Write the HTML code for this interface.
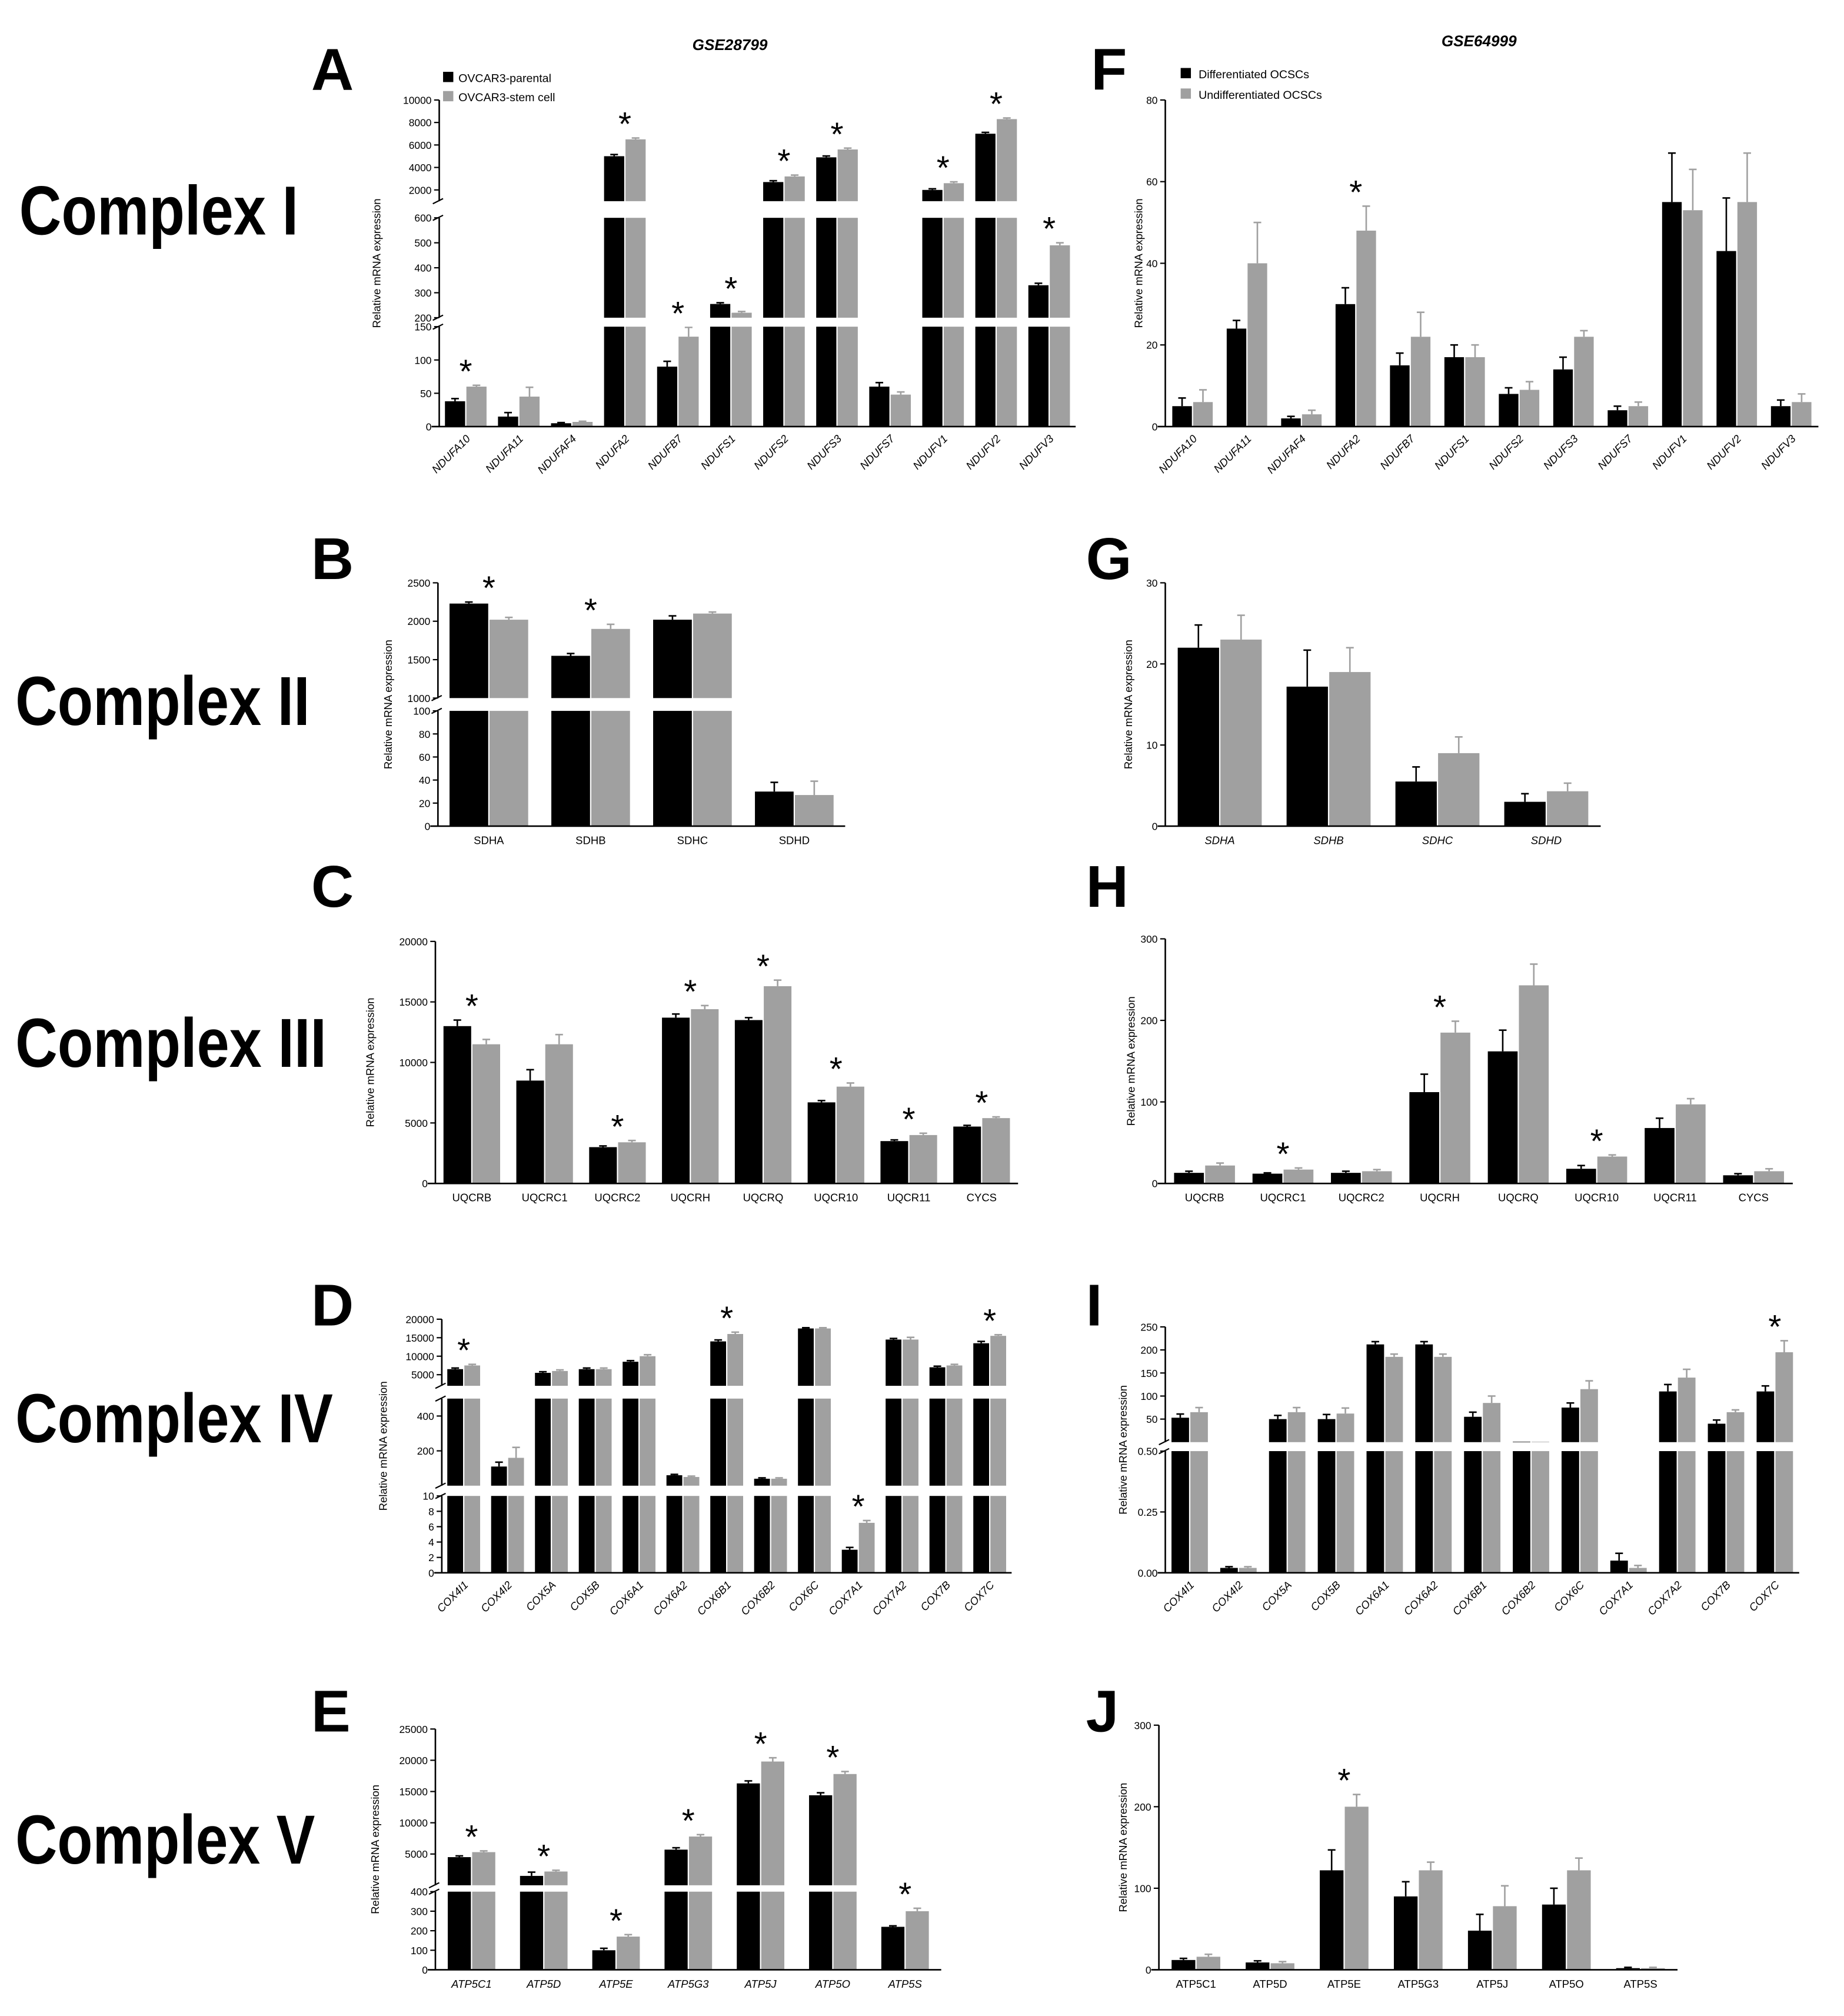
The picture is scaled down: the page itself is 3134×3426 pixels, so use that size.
<!DOCTYPE html>
<html><head><meta charset="utf-8"><style>
html,body{margin:0;padding:0;background:#fff}
svg{display:block}
text{font-family:"Liberation Sans",sans-serif}
</style></head><body>
<svg id="fig" width="3134" height="3426" viewBox="0 0 1440 1574" xmlns="http://www.w3.org/2000/svg">
<g>
<text x="570" y="39" font-size="12" font-weight="bold" font-style="italic" text-anchor="middle">GSE28799</text>
<text x="1155" y="36" font-size="12" font-weight="bold" font-style="italic" text-anchor="middle">GSE64999</text>
</g>
<g font-size="54" font-weight="bold" font-family="'Liberation Sans Narrow','Liberation Sans',sans-serif">
<text x="15" y="183" textLength="218" lengthAdjust="spacingAndGlyphs">Complex I</text>
<text x="12" y="566" textLength="230" lengthAdjust="spacingAndGlyphs">Complex II</text>
<text x="12" y="833" textLength="243" lengthAdjust="spacingAndGlyphs">Complex III</text>
<text x="12" y="1126" textLength="248" lengthAdjust="spacingAndGlyphs">Complex IV</text>
<text x="12" y="1455" textLength="234" lengthAdjust="spacingAndGlyphs">Complex V</text>
</g>
<g font-size="9">
<rect x="346" y="56" width="8" height="8" fill="#000"/><text x="358" y="64">OVCAR3-parental</text>
<rect x="346" y="71" width="8" height="8" fill="#a0a0a0"/><text x="358" y="79">OVCAR3-stem cell</text>
</g>
<g font-size="9">
<rect x="922" y="53" width="8" height="8" fill="#000"/><text x="936" y="61">Differentiated OCSCs</text>
<rect x="922" y="69" width="8" height="8" fill="#a0a0a0"/><text x="936" y="77">Undifferentiated OCSCs</text>
</g>
</svg>
<script>
const aCats=["NDUFA10","NDUFA11","NDUFAF4","NDUFA2","NDUFB7","NDUFS1","NDUFS2","NDUFS3","NDUFS7","NDUFV1","NDUFV2","NDUFV3"];
const aBlack=[38,15,5,5000,90,255,2700,4900,60,2000,7000,330];
const aGray=[60,45,7,6500,135,220,3200,5600,48,2600,8300,490];
const aBlackErr=[4,6,1,150,8,5,120,120,6,100,120,8];
const aGrayErr=[2,14,1,120,14,5,120,120,4,120,100,10];
const aStars=[1,0,0,1,1,1,1,1,0,1,1,1];
const fCats=aCats;
const fBlack=[5,24,2,30,15,17,8,14,4,55,43,5];
const fGray=[6,40,3,48,22,17,9,22,5,53,55,6];
const fBlackErr=[2,2,0.5,4,3,3,1.5,3,1,12,13,1.5];
const fGrayErr=[3,10,1,6,6,3,2,1.5,1,10,12,2];
const fStars=[0,0,0,1,0,0,0,0,0,0,0,0];
const bCats=["SDHA","SDHB","SDHC","SDHD"];
const bBlack=[2230,1550,2020,30];
const bGray=[2020,1900,2100,27];
const bBlackErr=[20,30,50,8];
const bGrayErr=[30,60,20,12];
const bStars=[1,1,0,0];
const gCats=bCats;
const gBlack=[22,17.2,5.5,3];
const gGray=[23,19,9,4.3];
const gBlackErr=[2.8,4.5,1.8,1];
const gGrayErr=[3,3,2,1];
const gStars=[0,0,0,0];
const cCats=["UQCRB","UQCRC1","UQCRC2","UQCRH","UQCRQ","UQCR10","UQCR11","CYCS"];
const cBlack=[13000,8500,3000,13700,13500,6700,3500,4700];
const cGray=[11500,11500,3400,14400,16300,8000,4000,5400];
const cBlackErr=[500,900,100,300,200,150,100,100];
const cGrayErr=[400,800,150,300,500,300,150,100];
const cStars=[1,0,1,1,1,1,1,1];
const hCats=["UQCRB","UQCRC1","UQCRC2","UQCRH","UQCRQ","UQCR10","UQCR11","CYCS"];
const hBlack=[13,12,13,112,162,18,68,10];
const hGray=[22,17,15,185,243,33,97,15];
const hBlackErr=[2,1,2,22,26,4,12,2];
const hGrayErr=[3,2,2,14,26,2,7,3];
const hStars=[0,1,0,1,0,1,0,0];
const dCats=["COX4I1","COX4I2","COX5A","COX5B","COX6A1","COX6A2","COX6B1","COX6B2","COX6C","COX7A1","COX7A2","COX7B","COX7C"];
const dBlack=[6500,110,5500,6500,8500,60,14000,40,17500,3,14500,7000,13500];
const dGray=[7500,160,6000,6500,10000,50,16000,40,17500,6.5,14500,7500,15500];
const dBlackErr=[300,25,300,300,300,5,400,5,200,0.3,300,300,500];
const dGrayErr=[300,60,300,300,400,5,500,5,200,0.3,600,300,300];
const dStars=[1,0,0,0,0,0,1,0,0,1,0,0,1];
const iCats=dCats;
const iBlack=[53,0.02,50,50,212,212,55,1,75,0.05,110,40,110];
const iGray=[65,0.02,65,62,185,185,85,1,115,0.02,140,65,195];
const iBlackErr=[8,0.005,8,10,6,6,10,0,10,0.03,15,8,12];
const iGrayErr=[10,0.005,10,12,6,6,15,0,18,0.01,18,5,25];
const iStars=[0,0,0,0,0,0,0,0,0,0,0,0,1];
const eCats=["ATP5C1","ATP5D","ATP5E","ATP5G3","ATP5J","ATP5O","ATP5S"];
const eBlack=[4500,1500,100,5700,16300,14400,220];
const eGray=[5300,2200,170,7800,19800,17800,300];
const eBlackErr=[200,600,10,300,400,400,5];
const eGrayErr=[200,200,10,300,600,400,15];
const eStars=[1,1,1,1,1,1,1];
const jCats=eCats;
const jBlack=[12,9,122,90,48,80,2];
const jGray=[16,8,200,122,78,122,2];
const jBlackErr=[2,2,25,18,20,20,1];
const jGrayErr=[3,2,15,10,25,15,1];
const jStars=[0,0,1,0,0,0,0];

const svg=document.getElementById('fig');
const NS="http://www.w3.org/2000/svg";
function mk(tag,attrs,parent){const e=document.createElementNS(NS,tag);for(const k in attrs)e.setAttribute(k,attrs[k]);parent.appendChild(e);return e;}

function panel(id,cfg,cats,blk,gry,be,ge,stars){
  const g=mk('g',{},svg);
  
  
  const segs=cfg.segs;
  function y(v){
    for(let i=0;i<segs.length;i++){const s=segs[i];
      if(v<=s.d1){ if(v<s.d0) return s.p0; return s.p0+(v-s.d0)/(s.d1-s.d0)*(s.p1-s.p0);} }
    return segs[segs.length-1].p1;
  }
  const n=cats.length, gw=(cfg.x1-cfg.x0)/n, bw=gw*cfg.bf;
  const yb=segs[0].p0;
  const starPos=[];
  for(let i=0;i<n;i++){
    const cx=cfg.x0+gw*(i+0.5);
    const vals=[blk[i],gry[i]], errs=[be[i],ge[i]];
    let top=yb;
    for(let k=0;k<2;k++){
      const xL=k===0?cx-bw-0.5:cx+0.5;
      const yv=y(vals[k]);
      const r=mk('rect',{x:xL,y:yv,width:bw,height:Math.max(0,yb-yv),fill:k===0?'#000':'#a0a0a0'},g);
      
      
      const ye=y(vals[k]+errs[k]);
      if(errs[k]>0){
        mk('line',{x1:xL+bw/2,x2:xL+bw/2,y1:yv,y2:ye,stroke:k===0?'#000':'#a0a0a0','stroke-width':1.2},g);
        mk('line',{x1:xL+bw/2-3,x2:xL+bw/2+3,y1:ye,y2:ye,stroke:k===0?'#000':'#a0a0a0','stroke-width':1.2},g);
      }
      top=Math.min(top,ye);
    }
    if(stars[i]) starPos.push([cx,top]);
    const lbl=mk('text',{'font-size':8.5,'font-style':cfg.italic?'italic':'normal'},g);
    lbl.textContent=cats[i];
    
    
    if(cfg.rot){lbl.setAttribute('text-anchor','end');lbl.setAttribute('transform',`translate(${cx+4},${yb+10}) rotate(-45)`);}
    else{lbl.setAttribute('text-anchor','middle');lbl.setAttribute('x',cx);lbl.setAttribute('y',yb+14);}
  }
  for(let i=0;i<segs.length-1;i++){
    const a=segs[i].p1,b=segs[i+1].p0;
    mk('rect',{x:cfg.x0-6,y:b,width:cfg.x1-cfg.x0+6,height:a-b,fill:'#fff'},g);
    mk('line',{x1:cfg.x0-5,x2:cfg.x0+3,y1:a+2,y2:a-2,stroke:'#000'},g);
    mk('line',{x1:cfg.x0-5,x2:cfg.x0+3,y1:b+2,y2:b-2,stroke:'#000'},g);
  }
  starPos.forEach(p=>{
    const st=mk('text',{x:p[0],y:p[1]-2,'font-size':26,'text-anchor':'middle'},g);
    st.textContent='*';
    
    
  });
  const ax=mk('g',{},g);
  
  
  mk('line',{x1:cfg.x0-6,x2:cfg.x1,y1:yb,y2:yb,stroke:'#000','stroke-width':1.2},g);
  segs.forEach(s=>{
    mk('line',{x1:cfg.x0,x2:cfg.x0,y1:s.p0,y2:s.p1,stroke:'#000','stroke-width':1.2},ax);
    s.ticks.forEach(t=>{
      const ty=y(t);
      mk('line',{x1:cfg.x0-4,x2:cfg.x0,y1:ty,y2:ty,stroke:'#000'},ax);
      const tl=mk('text',{x:cfg.x0-6,y:ty+3,'font-size':8,'text-anchor':'end'},ax);
      tl.textContent=cfg.fmt?cfg.fmt(t):String(t);
    });
  });
  const top=segs[segs.length-1].p1;
  const yt=mk('text',{'font-size':8.5,'text-anchor':'middle',transform:`translate(${cfg.ytx},${(yb+top)/2}) rotate(-90)`},g);
  yt.textContent='Relative mRNA expression';
  
  
  const L=mk('text',{x:cfg.lx,y:cfg.ly,'font-size':46,'font-weight':'bold','font-family':"'Liberation Sans Narrow','Liberation Sans',sans-serif"},g);
  L.textContent=id.toUpperCase();
  
  
}

panel('a',{x0:343,x1:840,bf:0.38,rot:true,italic:true,ytx:297,lx:243,ly:70,
  segs:[{d0:0,d1:150,p0:333,p1:255,ticks:[0,50,100,150]},{d0:200,d1:600,p0:248,p1:170,ticks:[200,300,400,500,600]},{d0:1000,d1:10000,p0:157,p1:78,ticks:[2000,4000,6000,8000,10000]}]},
  aCats,aBlack,aGray,aBlackErr,aGrayErr,aStars);
panel('f',{x0:910,x1:1420,bf:0.36,rot:true,italic:true,ytx:892,lx:852,ly:70,
  segs:[{d0:0,d1:80,p0:333,p1:78,ticks:[0,20,40,60,80]}]},
  fCats,fBlack,fGray,fBlackErr,fGrayErr,fStars);
panel('b',{x0:342,x1:660,bf:0.38,rot:false,italic:false,ytx:306,lx:243,ly:452,
  segs:[{d0:0,d1:100,p0:645,p1:555,ticks:[0,20,40,60,80,100]},{d0:1000,d1:2500,p0:545,p1:455,ticks:[1000,1500,2000,2500]}]},
  bCats,bBlack,bGray,bBlackErr,bGrayErr,bStars);
panel('g',{x0:910,x1:1250,bf:0.38,rot:false,italic:true,ytx:884,lx:848,ly:452,
  segs:[{d0:0,d1:30,p0:645,p1:455,ticks:[0,10,20,30]}]},
  gCats,gBlack,gGray,gBlackErr,gGrayErr,gStars);
panel('c',{x0:340,x1:795,bf:0.38,rot:false,italic:false,ytx:292,lx:243,ly:708,
  segs:[{d0:0,d1:20000,p0:924,p1:735,ticks:[0,5000,10000,15000,20000]}]},
  cCats,cBlack,cGray,cBlackErr,cGrayErr,cStars);
panel('h',{x0:910,x1:1400,bf:0.38,rot:false,italic:false,ytx:886,lx:848,ly:708,
  segs:[{d0:0,d1:300,p0:924,p1:733,ticks:[0,100,200,300]}]},
  hCats,hBlack,hGray,hBlackErr,hGrayErr,hStars);
panel('d',{x0:345,x1:790,bf:0.36,rot:true,italic:true,ytx:302,lx:243,ly:1035,
  segs:[{d0:0,d1:10,p0:1228,p1:1168,ticks:[0,2,4,6,8,10]},{d0:0,d1:500,p0:1160,p1:1092,ticks:[200,400]},{d0:2000,d1:20000,p0:1082,p1:1030,ticks:[5000,10000,15000,20000]}]},
  dCats,dBlack,dGray,dBlackErr,dGrayErr,dStars);
panel('i',{x0:910,x1:1405,bf:0.36,rot:true,italic:true,ytx:880,lx:848,ly:1035,
  fmt:t=>t<1?t.toFixed(2):String(t),
  segs:[{d0:0,d1:0.5,p0:1228,p1:1133,ticks:[0,0.25,0.5]},{d0:0,d1:250,p0:1126,p1:1036,ticks:[50,100,150,200,250]}]},
  iCats,iBlack,iGray,iBlackErr,iGrayErr,iStars);
panel('e',{x0:340,x1:735,bf:0.32,rot:false,italic:true,ytx:296,lx:243,ly:1352,
  segs:[{d0:0,d1:400,p0:1538,p1:1477,ticks:[0,100,200,300,400]},{d0:0,d1:25000,p0:1472,p1:1350,ticks:[5000,10000,15000,20000,25000]}]},
  eCats,eBlack,eGray,eBlackErr,eGrayErr,eStars);
panel('j',{x0:905,x1:1310,bf:0.32,rot:false,italic:false,ytx:880,lx:848,ly:1352,
  segs:[{d0:0,d1:300,p0:1538,p1:1347,ticks:[0,100,200,300]}]},
  jCats,jBlack,jGray,jBlackErr,jGrayErr,jStars);
</script>
</body></html>
